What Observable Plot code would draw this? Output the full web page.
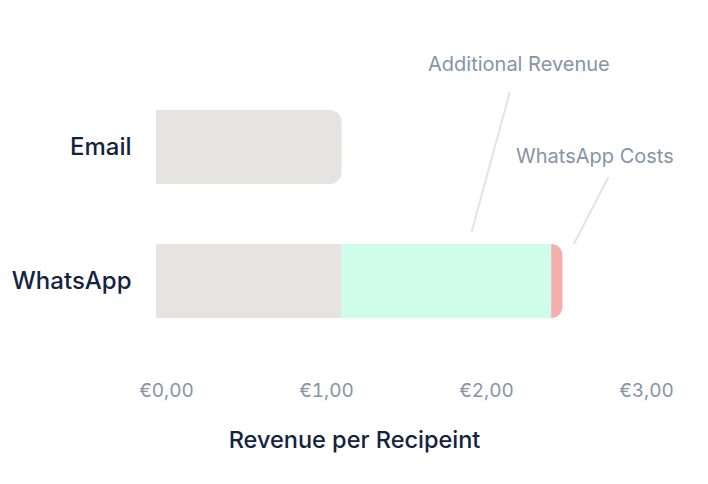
<!DOCTYPE html>
<html>
<head>
<meta charset="utf-8">
<script src="https://cdn.jsdelivr.net/npm/d3@7"></script>
<script src="https://cdn.jsdelivr.net/npm/@observablehq/plot@0.6"></script>
<style>
  html, body { margin: 0; padding: 0; background: #ffffff; }
  body { font-family: Inter, "Noto Sans", sans-serif; }
</style>
</head>
<body>
<div id="chart"></div>
<script>
// Categories and values (€ per recipient)
const channels = ["Email", "WhatsApp"];
const baseRevenue = [1.16, 1.16];        // grey segment
const additionalRevenue = [0, 1.31];     // mint segment (WhatsApp only)
const whatsappCosts = [0, 0.07];         // pink segment (WhatsApp only)
const xTicks = [0, 1, 2, 3];
const xTickLabels = ["€0,00", "€1,00", "€2,00", "€3,00"];
const axisTitle = "Revenue per Recipeint";
const annotationLabels = ["Additional Revenue", "WhatsApp Costs"];
const annotationTextX = [2.265, 2.74];    // data x of the label centres
const annotationLineX = [1.97, 2.61];     // data x where leader lines start

const colors = {base: "#e5e4e2", additional: "#d0fcec", costs: "#f4aeab"};
const ink = "#13233f";
const muted = "#8694a4";

// Build stacked segments
const segments = [];
channels.forEach((c, i) => {
  const b0 = 0, b1 = baseRevenue[i];
  const a1 = b1 + additionalRevenue[i];
  const c1 = a1 + whatsappCosts[i];
  segments.push({channel: c, part: "base", x1: b0, x2: b1, last: additionalRevenue[i] === 0 && whatsappCosts[i] === 0});
  if (additionalRevenue[i] > 0) segments.push({channel: c, part: "additional", x1: b1, x2: a1, last: whatsappCosts[i] === 0});
  if (whatsappCosts[i] > 0) segments.push({channel: c, part: "costs", x1: a1, x2: c1, last: true});
});

const annotations = annotationLabels.map((t, i) => ({label: t, tx: annotationTextX[i], lx: annotationLineX[i]}));

// leader line shape: straight line from anchor
const lineShape = {draw(context, l) { context.moveTo(0, 0); context.lineTo(0, -l); }};

const plot = Plot.plot({
  width: 708,
  height: 484,
  marginTop: 49,
  marginBottom: 106,
  marginLeft: 156,
  marginRight: 72,
  style: {fontFamily: "Inter, 'Noto Sans', sans-serif", background: "#ffffff", overflow: "visible"},
  x: {domain: [0, 3], ticks: xTicks, tickFormat: (d) => xTickLabels[xTicks.indexOf(d)], label: null},
  y: {domain: channels, padding: 0.45, label: null},
  marks: [
    // square segments
    Plot.barX(segments.filter(d => !d.last), {
      x1: "x1", x2: "x2", y: "channel",
      fill: d => colors[d.part]
    }),
    // last segment with rounded right corners
    Plot.barX(segments.filter(d => d.last), {
      x1: "x1", x2: "x2", y: "channel",
      fill: d => colors[d.part],
      rx2y1: 12, rx2y2: 12
    }),
    // leader lines
    Plot.vector(annotations.slice(0, 1), {
      x: "lx", y: () => "WhatsApp", anchor: "start", length: 144, rotate: 15.3,
      shape: lineShape, stroke: "#e3e3e3", strokeWidth: 2, dy: -50
    }),
    Plot.vector(annotations.slice(1, 2), {
      x: "lx", y: () => "WhatsApp", anchor: "start", length: 74, rotate: 27.3,
      shape: lineShape, stroke: "#e3e3e3", strokeWidth: 2, dy: -38
    }),
    // annotation labels
    Plot.text(annotations.slice(0, 1), {
      x: "tx", y: () => "Email", text: "label", dy: -83,
      fill: muted, fontSize: 20
    }),
    Plot.text(annotations.slice(1, 2), {
      x: "tx", y: () => "Email", text: "label", dy: 9,
      fill: muted, fontSize: 20
    }),
    Plot.axisY({tickSize: 0, tickPadding: 25, fontSize: 24, fontWeight: 500, fill: ink, label: null}),
    Plot.axisX({ticks: xTicks, tickFormat: (d) => xTickLabels[xTicks.indexOf(d)], tickSize: 0, tickPadding: 5, fontSize: 19, fill: muted, dx: 10, label: null}),
    Plot.text([axisTitle], {frameAnchor: "bottom", text: d => d, dx: -42, dy: 69, fontSize: 23.5, fontWeight: 500, fill: ink})
  ]
});

document.getElementById("chart").appendChild(plot);
</script>
</body>
</html>
